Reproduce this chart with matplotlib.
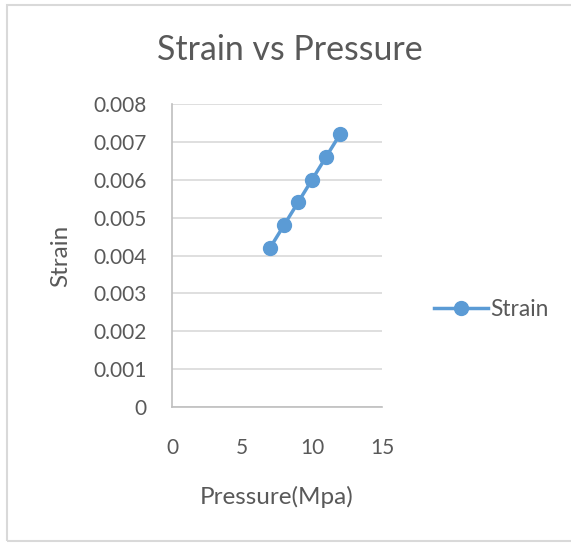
import matplotlib.pyplot as plt
from matplotlib.patches import Rectangle

# data
pressure = [7, 8, 9, 10, 11, 12]
strain = [0.0042, 0.0048, 0.0054, 0.0060, 0.0066, 0.0072]
x_ticks = [0, 5, 10, 15]
y_ticks = [0, 0.001, 0.002, 0.003, 0.004, 0.005, 0.006, 0.007, 0.008]
y_labels = ['0', '0.001', '0.002', '0.003', '0.004', '0.005', '0.006', '0.007', '0.008']

W, H = 571, 545
blue = '#5B9BD5'
txt = '#595959'
grid = '#D9D9D9'
plt.rcParams['font.family'] = ['Lato', 'DejaVu Sans']

fig = plt.figure(figsize=(W / 100, H / 100), dpi=100)
fig.patch.set_facecolor('white')

# chart border (right edge falls outside the image)
fig.add_artist(Rectangle((7 / W, 1 - 541 / H), 600 / W, 536 / H,
                         transform=fig.transFigure, fill=False,
                         edgecolor='#D9D9D9', linewidth=1.5))

ax = fig.add_axes([172 / W, 1 - 407 / H, 210 / W, 303 / H])
ax.plot(pressure, strain, color=blue, linewidth=2.5, marker='o',
        markersize=10, label='Strain', zorder=3)

ax.set_xlim(0, 15)
ax.set_ylim(0, 0.008)
ax.set_xticks(x_ticks)
ax.set_yticks(y_ticks)
ax.set_yticklabels(y_labels)
ax.tick_params(length=0, labelsize=15, labelcolor=txt)
ax.tick_params(axis='y', pad=18)
ax.tick_params(axis='x', pad=22)
ax.yaxis.grid(True, color=grid, linewidth=1.2)
ax.set_axisbelow(True)
for s in ['top', 'right']:
    ax.spines[s].set_visible(False)
for s in ['left', 'bottom']:
    ax.spines[s].set_color('#BFBFBF')
    ax.spines[s].set_linewidth(1.2)

fig.text(290 / W, 1 - 50 / H, 'Strain vs Pressure', ha='center', va='center',
         fontsize=24.4, color=txt)
fig.text(277 / W, 1 - 497 / H, 'Pressure(Mpa)', ha='center', va='center',
         fontsize=17.5, color=txt)
fig.text(61 / W, 1 - 256 / H, 'Strain', ha='center', va='center',
         rotation=90, fontsize=17.5, color=txt)

ax.legend(loc='center left', bbox_to_anchor=(413 / W, 1 - 309 / H),
          bbox_transform=fig.transFigure, frameon=False, fontsize=16.4,
          handlelength=2.4, handletextpad=0.1, labelcolor=txt)

plt.savefig('out.png', dpi=100)
